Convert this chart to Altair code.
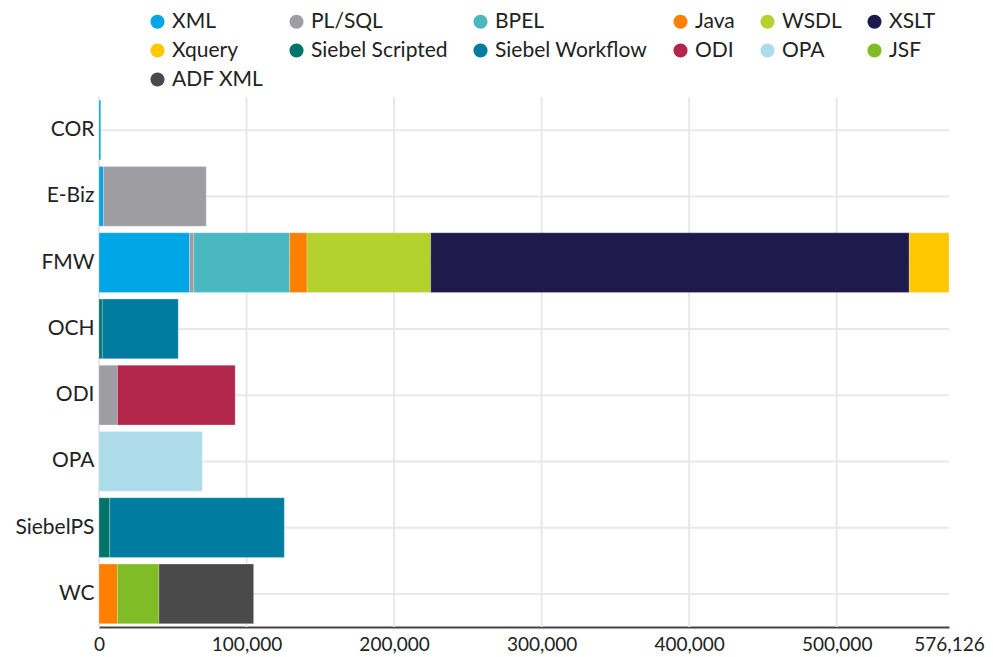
import altair as alt
import pandas as pd

products = ["COR", "E-Biz", "FMW", "OCH", "ODI", "OPA", "SiebelPS", "WC"]
languages = ["XML", "PL/SQL", "BPEL", "Java", "WSDL", "XSLT", "Xquery",
             "Siebel Scripted", "Siebel Workflow", "ODI", "OPA", "JSF", "ADF XML"]
colors = ["#00a6e5", "#9e9ea2", "#4ab8c1", "#ff8000", "#b5d12e", "#1e1b4c", "#ffc800",
          "#00736a", "#007ca0", "#b3264b", "#aedbea", "#80bc26", "#4a4a4a"]

rows_product = ["COR", "E-Biz", "E-Biz", "FMW", "FMW", "FMW", "FMW", "FMW", "FMW", "FMW",
                "OCH", "OCH", "ODI", "ODI", "OPA", "SiebelPS", "SiebelPS", "WC", "WC", "WC"]
rows_language = ["XML", "XML", "PL/SQL", "XML", "PL/SQL", "BPEL", "Java", "WSDL", "XSLT", "Xquery",
                 "Siebel Scripted", "Siebel Workflow", "PL/SQL", "ODI", "OPA",
                 "Siebel Scripted", "Siebel Workflow", "Java", "JSF", "ADF XML"]
rows_value = [1200, 3000, 69700, 61400, 2900, 64900, 11800, 83800, 324400, 26926,
              2200, 51500, 12500, 79800, 70000, 7300, 118300, 12500, 28100, 64200]

x_ticks = [0, 100000, 200000, 300000, 400000, 500000, 576126]
x_grid = x_ticks[:-1]

df = pd.DataFrame({"product": rows_product, "language": rows_language, "value": rows_value})
df["order"] = df["language"].map({l: i for i, l in enumerate(languages)})

FONT = "Lato"
GRID = "#e8e8e8"
x_scale = alt.Scale(domain=[0, 576126], nice=False)
y_scale = alt.Scale(paddingInner=0.1, paddingOuter=0.05)

grid_x = alt.Chart(pd.DataFrame({"value": x_grid})).mark_rule(
    color=GRID, strokeWidth=2).encode(x=alt.X("value:Q", scale=x_scale))
grid_y = alt.Chart(pd.DataFrame({"product": products})).mark_rule(
    color=GRID, strokeWidth=2).encode(y=alt.Y("product:N", sort=products, scale=y_scale))

bars = alt.Chart(df).mark_bar(stroke="white", strokeWidth=0.6, strokeOpacity=0.4).encode(
    y=alt.Y("product:N", sort=products, title=None, scale=y_scale,
            axis=alt.Axis(grid=False, domain=False, ticks=False,
                          labelPadding=5, labelFontSize=21, labelColor="#222222", labelFont=FONT)),
    x=alt.X("value:Q", stack="zero", title=None, scale=x_scale,
            axis=alt.Axis(values=x_ticks, format=",d", grid=False,
                          domainColor="#444444", domainWidth=2, ticks=False,
                          labelPadding=8, labelFontSize=19, labelColor="#222222",
                          labelFont=FONT, labelFlush=False, labelOverlap=False)),
    color=alt.Color("language:N", scale=alt.Scale(domain=languages, range=colors),
                    legend=alt.Legend(orient="none", legendX=48, legendY=-86, columns=6,
                                      direction="horizontal", title=None, symbolType="circle",
                                      symbolSize=200, symbolStrokeWidth=0, labelFontSize=21,
                                      labelFont=FONT, labelColor="#222222", rowPadding=7,
                                      columnPadding=22, labelOffset=4, symbolOpacity=1)),
    order=alt.Order("order:Q"),
)

chart = alt.layer(grid_x, grid_y, bars).properties(
    width=850, height=530,
    padding={"left": 91, "top": 89, "right": 36, "bottom": 30},
    autosize=alt.AutoSizeParams(type="none"),
).configure(font=FONT).configure_view(strokeWidth=0, stroke="transparent")

chart.save("out.html", embed_options={"renderer": "svg", "actions": False})
